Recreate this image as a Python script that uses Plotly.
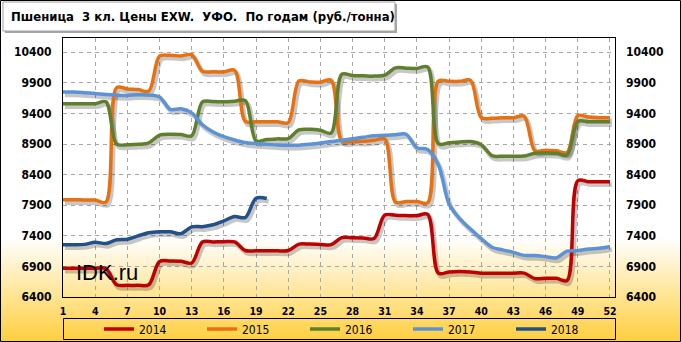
import plotly.graph_objects as go

weeks = list(range(1, 53))
weeks_2018 = list(range(1, 21))

y2014 = [6870, 6870, 6870, 6870, 6865, 6600, 6590, 6590, 6600, 6980,
         6990, 6985, 6955, 7300, 7300, 7305, 7300, 7160, 7155, 7155,
         7155, 7160, 7265, 7265, 7260, 7255, 7370, 7370, 7365, 7355,
         7740, 7735, 7730, 7730, 7750, 6790, 6810, 6815, 6810, 6790,
         6790, 6790, 6790, 6790, 6700, 6705, 6705, 6670, 8300, 8285,
         8285, 8285]
y2015 = [7990, 7990, 7985, 7985, 7950, 9820, 9800, 9790, 9765, 10335,
         10350, 10340, 10360, 10090, 10080, 10080, 10105, 9270, 9265, 9265,
         9265, 9250, 9930, 9915, 9910, 9945, 8950, 8950, 8945, 8960,
         8985, 7950, 7960, 7960, 7940, 9930, 9925, 9925, 9940, 9330,
         9320, 9330, 9330, 9355, 8790, 8800, 8790, 8760, 9365, 9340,
         9330, 9330]
y2016 = [9560, 9560, 9560, 9560, 9590, 8900, 8890, 8895, 8920, 9045,
         9060, 9055, 9035, 9590, 9595, 9590, 9600, 9610, 8950, 8975,
         8985, 8990, 9130, 9140, 9125, 9080, 10040, 10020, 10015, 10010,
         10025, 10145, 10140, 10135, 10160, 8905, 8920, 8935, 8940, 8890,
         8710, 8700, 8700, 8705, 8750, 8755, 8750, 8720, 9270, 9265,
         9265, 9265]
y2017 = [9750, 9750, 9740, 9727, 9710, 9700, 9695, 9705, 9700, 9670,
         9466, 9475, 9410, 9215, 9097, 9021, 8967, 8925, 8907, 8895,
         8885, 8880, 8880, 8896, 8918, 8940, 8961, 8988, 9010, 9037,
         9042, 9053, 9060, 8840, 8810, 8560, 7920, 7680, 7510, 7355,
         7213, 7170, 7130, 7080, 7077, 7060, 7040, 7150, 7158, 7185,
         7196, 7225]
y2018 = [7255, 7255, 7260, 7295, 7275, 7335, 7345, 7400, 7450, 7465,
         7465, 7435, 7545, 7550, 7580, 7645, 7715, 7700, 8015, 8010]

series = [
    ("2014", weeks, y2014, "#C00000"),
    ("2015", weeks, y2015, "#E8700E"),
    ("2016", weeks, y2016, "#5F7F2C"),
    ("2017", weeks, y2017, "#5B93D8"),
    ("2018", weeks_2018, y2018, "#22508A"),
]

x_ticks = list(range(1, 53, 3))
y_ticks = list(range(6400, 10401, 500))

# layout geometry (pixels)
W, H = 681, 342
L, R, T, B = 63, 615, 38, 297
XR = [1, 52.47]
YR = [6400, 10633]
ux = (XR[1] - XR[0]) / (R - L)
uy = (YR[1] - YR[0]) / (B - T)
sdx, sdy = 2, 3  # shadow offset in px


def px_x(p):
    return (p - L) / (R - L)


def px_y(p):
    return (B - p) / (B - T)


fig = go.Figure()

# shadows on base axes
for name, xs, ys, col in series:
    fig.add_trace(go.Scatter(x=xs, y=ys, mode="lines", xaxis="x", yaxis="y",
                             line=dict(color="rgba(0,0,0,0.22)", width=4.5,
                                       shape="spline", smoothing=0.9),
                             showlegend=False, hoverinfo="skip"))
# main lines on overlay axes
for name, xs, ys, col in series:
    fig.add_trace(go.Scatter(x=xs, y=ys, mode="lines", name=name,
                             xaxis="x2", yaxis="y2",
                             line=dict(color=col, width=3.5,
                                       shape="spline", smoothing=0.9)))
# invisible trace for right axis
fig.add_trace(go.Scatter(x=weeks, y=y2017, mode="lines", xaxis="x2", yaxis="y3",
                         line=dict(width=0), opacity=0, showlegend=False,
                         hoverinfo="skip"))

tick_font_y = dict(family="DejaVu Sans Condensed, DejaVu Sans", size=12,
                   color="black", weight="bold")
tick_font_x = dict(family="DejaVu Sans Condensed, DejaVu Sans", size=10.5,
                   color="black", weight="bold")

shapes = []
# background gradient
g0, g1 = 238, H
n = 40
step = (g1 - g0) / n
top_c = (255, 255, 255)
bot_c = (255, 206, 60)
for i in range(n):
    f = (i + 0.5) / n
    c = tuple(int(round(top_c[k] + (bot_c[k] - top_c[k]) * f)) for k in range(3))
    shapes.append(dict(type="rect", xref="paper", yref="paper", layer="below",
                       x0=px_x(-1), x1=px_x(W + 1),
                       y0=px_y(g0 + i * step), y1=px_y(g0 + (i + 1) * step + 0.6),
                       line=dict(width=0), fillcolor="rgb(%d,%d,%d)" % c))
# title box shadow + box
shapes.append(dict(type="rect", xref="paper", yref="paper", layer="above",
                   x0=px_x(5), x1=px_x(397), y0=px_y(4), y1=px_y(33),
                   line=dict(width=0), fillcolor="rgba(0,0,0,0.35)"))
shapes.append(dict(type="rect", xref="paper", yref="paper", layer="above",
                   x0=px_x(3), x1=px_x(395), y0=px_y(2), y1=px_y(31),
                   line=dict(width=1, color="#A0A0A0"), fillcolor="white"))
# legend box
shapes.append(dict(type="rect", xref="paper", yref="paper", layer="above",
                   x0=px_x(63.5), x1=px_x(615.5), y0=px_y(318.5), y1=px_y(339.5),
                   line=dict(width=1, color="black"), fillcolor="rgba(0,0,0,0)"))
# outer border
shapes.append(dict(type="rect", xref="paper", yref="paper", layer="above",
                   x0=px_x(0.5), x1=px_x(W - 0.5), y0=px_y(0.5), y1=px_y(H - 0.5),
                   line=dict(width=1, color="black"), fillcolor="rgba(0,0,0,0)"))

fig.update_layout(
    width=W, height=H,
    margin=dict(l=L, r=W - R, t=T, b=H - B, autoexpand=False),
    paper_bgcolor="white", plot_bgcolor="rgba(0,0,0,0)",
    showlegend=True,
    xaxis=dict(range=[XR[0] - sdx * ux, XR[1] - sdx * ux], visible=False,
               fixedrange=True),
    yaxis=dict(range=[YR[0] + sdy * uy, YR[1] + sdy * uy], visible=False,
               fixedrange=True),
    xaxis2=dict(overlaying="x", anchor="y2", side="bottom", range=XR,
                tickmode="array", tickvals=x_ticks, ticktext=[str(v) for v in x_ticks],
                showgrid=True, gridcolor="#A8A8A8", griddash="4px,4px", gridwidth=1,
                showline=True, linecolor="black", linewidth=1, mirror=True,
                ticks="", tickfont=tick_font_x, ticklabelstandoff=4,
                zeroline=False),
    yaxis2=dict(overlaying="y", anchor="x2", side="left", range=YR,
                tickmode="array", tickvals=y_ticks, ticktext=[str(v) for v in y_ticks],
                showgrid=True, gridcolor="#A8A8A8", griddash="4px,4px", gridwidth=1,
                showline=True, linecolor="black", linewidth=1, mirror=True,
                ticks="", tickfont=tick_font_y, ticklabelstandoff=8,
                zeroline=False),
    yaxis3=dict(overlaying="y", anchor="x2", side="right", range=YR,
                tickmode="array", tickvals=y_ticks, ticktext=[str(v) for v in y_ticks],
                showgrid=False, showline=False, ticks="", tickfont=tick_font_y,
                ticklabelstandoff=10, zeroline=False),
    legend=dict(orientation="h", x=px_x(99), xanchor="left",
                y=px_y(329), yanchor="middle",
                entrywidth=58, entrywidthmode="pixels",
                bgcolor="rgba(0,0,0,0)", borderwidth=0,
                font=dict(family="DejaVu Sans Condensed, DejaVu Sans", size=12,
                          color="black"),
                itemwidth=30, tracegroupgap=0),
    shapes=shapes,
    annotations=[
        dict(text="Пшеница  3 кл. Цены EXW.  УФО.  По годам (руб./тонна)",
             xref="paper", yref="paper", x=px_x(9), y=px_y(16.5),
             xanchor="left", yanchor="middle", showarrow=False,
             font=dict(family="DejaVu Sans Condensed, DejaVu Sans", size=13,
                       color="black", weight="bold")),
        dict(text="IDK.ru", xref="paper", yref="paper", x=px_x(74), y=px_y(272.5),
             xanchor="left", yanchor="middle", showarrow=False,
             font=dict(family="Liberation Sans, Arial", size=22, color="black")),
    ],
)

fig.write_html("out.html")
